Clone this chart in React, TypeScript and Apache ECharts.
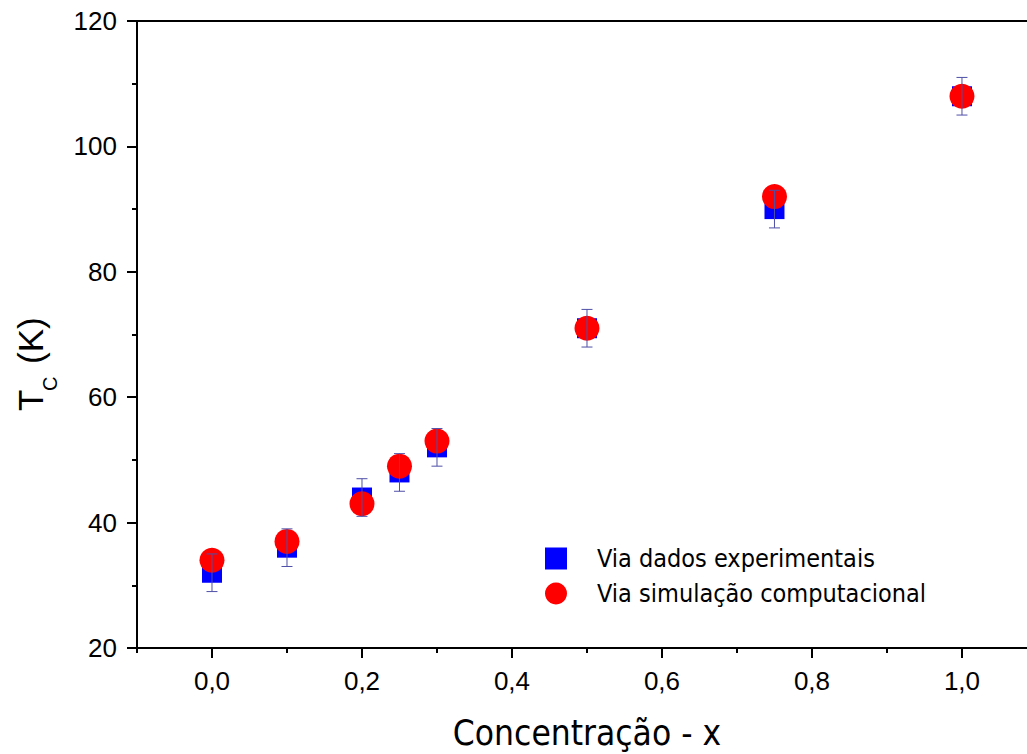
import React, { useEffect, useRef } from "react";
import * as echarts from "echarts";

// ---- Data ----
const X_VALUES = [0, 0.1, 0.2, 0.25, 0.3, 0.5, 0.75, 1.0];
const EXPERIMENTAL = [32, 36, 44, 48, 52, 71, 90, 108];
const EXPERIMENTAL_ERR = [3, 3, 3, 3, 3, 3, 3, 3];
const SIMULATION = [34, 37, 43, 49, 53, 71, 92, 108];
const X_MAJOR_TICKS = [0, 0.2, 0.4, 0.6, 0.8, 1.0];
const X_MINOR_TICKS = [-0.1, 0.1, 0.3, 0.5, 0.7, 0.9];
const X_MIN = -0.1;
const X_MAX = 1.0867; // visible part of the axis (the frame is cut at the right edge)
const SERIES_NAMES = ["Via dados experimentais", "Via simulação computacional"];
const X_TITLE = "Concentração - x";

const AXIS_COLOR = "#000";
const TICK_FONT = "Liberation Sans";
const TITLE_FONT = "DejaVu Sans Condensed";

export default function App() {
  const ref = useRef<HTMLDivElement>(null);

  useEffect(() => {
    if (!ref.current) return;
    const chart = echarts.init(ref.current, null, { renderer: "svg" });
    const lineStyle = { color: AXIS_COLOR, width: 2 };

    const option: any = {
      animation: false,
      backgroundColor: "#fff",
      grid: { left: 137, right: 0, top: 21, bottom: 106 },
      legend: {
        data: SERIES_NAMES,
        orient: "vertical",
        left: 540,
        top: 541,
        itemWidth: 22,
        itemHeight: 22,
        itemGap: 10,
        selectedMode: false,
        textStyle: {
          fontFamily: TITLE_FONT,
          fontSize: 25,
          color: "#000",
          padding: [0, 0, 0, 25],
        },
      },
      xAxis: [
        {
          type: "value",
          min: X_MIN,
          max: X_MAX,
          position: "bottom",
          axisLine: { show: true, onZero: false, lineStyle },
          axisTick: { show: true, customValues: X_MAJOR_TICKS, length: 10, lineStyle },
          axisLabel: {
            customValues: X_MAJOR_TICKS,
            formatter: (v: number) => v.toFixed(1).replace(".", ","),
            fontFamily: TICK_FONT,
            fontSize: 26,
            color: "#000",
            margin: 20,
          },
          splitLine: { show: false },
        },
        {
          type: "value",
          min: X_MIN,
          max: X_MAX,
          position: "bottom",
          axisLine: { show: false, onZero: false },
          axisTick: { show: true, customValues: X_MINOR_TICKS, length: 5, lineStyle },
          axisLabel: { show: false },
          splitLine: { show: false },
        },
        {
          type: "value",
          min: X_MIN,
          max: X_MAX,
          position: "top",
          axisLine: { show: true, onZero: false, lineStyle },
          axisTick: { show: false },
          axisLabel: { show: false },
          splitLine: { show: false },
        },
      ],
      yAxis: {
        type: "value",
        min: 20,
        max: 120,
        interval: 20,
        axisLine: { show: true, onZero: false, lineStyle },
        axisTick: { show: true, length: 10, lineStyle },
        minorTick: { show: true, splitNumber: 2, length: 5, lineStyle },
        axisLabel: {
          fontFamily: TICK_FONT,
          fontSize: 26,
          color: "#000",
          margin: 20,
        },
        splitLine: { show: false },
        minorSplitLine: { show: false },
      },
      graphic: [
        {
          type: "text",
          x: 587,
          y: 733,
          silent: true,
          style: {
            text: X_TITLE,
            fontFamily: TITLE_FONT,
            fontSize: 35,
            fill: "#000",
            align: "center",
            verticalAlign: "middle",
          },
        },
        {
          type: "text",
          x: 30,
          y: 411,
          rotation: Math.PI / 2,
          silent: true,
          style: {
            text: "T",
            fontFamily: TICK_FONT,
            fontSize: 35,
            fill: "#000",
            align: "left",
            verticalAlign: "middle",
          },
        },
        {
          type: "text",
          x: 50,
          y: 391,
          rotation: Math.PI / 2,
          silent: true,
          style: {
            text: "C",
            fontFamily: TICK_FONT,
            fontSize: 20,
            fill: "#000",
            align: "left",
            verticalAlign: "middle",
          },
        },
        {
          type: "text",
          x: 30,
          y: 364,
          rotation: Math.PI / 2,
          silent: true,
          style: {
            text: "(K)",
            fontFamily: TICK_FONT,
            fontSize: 35,
            fill: "#000",
            align: "left",
            verticalAlign: "middle",
          },
        },
      ],
      series: [
        {
          name: SERIES_NAMES[0],
          type: "scatter",
          symbol: "rect",
          symbolSize: 20,
          itemStyle: { color: "#0000ff", opacity: 1 },
          emphasis: { disabled: true },
          data: X_VALUES.map((x, i) => [x, EXPERIMENTAL[i]]),
        },
        {
          name: SERIES_NAMES[1],
          type: "scatter",
          symbol: "circle",
          symbolSize: 25,
          itemStyle: { color: "#ff0000", opacity: 1 },
          emphasis: { disabled: true },
          data: X_VALUES.map((x, i) => [x, SIMULATION[i]]),
        },
        {
          type: "custom",
          z: 5,
          silent: true,
          encode: { x: 0, y: [1, 2] },
          data: X_VALUES.map((x, i) => [
            x,
            EXPERIMENTAL[i] - EXPERIMENTAL_ERR[i],
            EXPERIMENTAL[i] + EXPERIMENTAL_ERR[i],
          ]),
          renderItem: (params: any, api: any) => {
            const x = api.value(0);
            const top = api.coord([x, api.value(2)]);
            const bot = api.coord([x, api.value(1)]);
            const w = 5.5;
            const style = { stroke: "#4f4fa8", lineWidth: 1 };
            return {
              type: "group",
              children: [
                { type: "line", shape: { x1: top[0], y1: top[1], x2: bot[0], y2: bot[1] }, style },
                { type: "line", shape: { x1: top[0] - w, y1: top[1], x2: top[0] + w, y2: top[1] }, style },
                { type: "line", shape: { x1: bot[0] - w, y1: bot[1], x2: bot[0] + w, y2: bot[1] }, style },
              ],
            };
          },
        },
      ],
    };

    chart.setOption(option);
    return () => chart.dispose();
  }, []);

  return (
    <div
      ref={ref}
      style={{ position: "fixed", left: 0, top: 0, width: 1027, height: 754, background: "#fff" }}
    />
  );
}
